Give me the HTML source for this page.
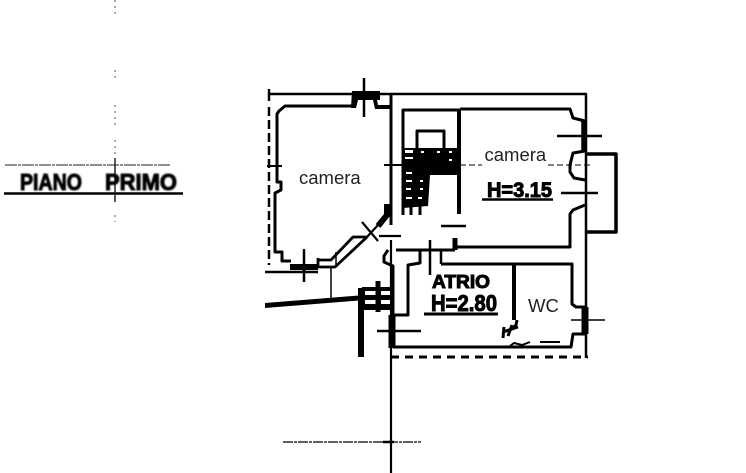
<!DOCTYPE html>
<html><head><meta charset="utf-8"><style>
html,body{margin:0;padding:0;background:#fff;width:746px;height:473px;overflow:hidden}
svg{display:block}
text{font-family:"Liberation Sans",sans-serif}
.w{fill:none;stroke:#000;stroke-linejoin:round}
.h{font-weight:bold;fill:#000;stroke:#000;stroke-width:1}
</style></head><body>
<svg width="746" height="473" viewBox="0 0 746 473" xmlns="http://www.w3.org/2000/svg">
<defs><filter id="b"><feGaussianBlur stdDeviation=".7"/></filter></defs>
<rect width="746" height="473" fill="#fff"/>
<!-- left title -->
<path d="M115 0V14M115 70V80M115 105V125M115 140V205M115 215V222" stroke="#555" stroke-width="1" stroke-dasharray="2 4" fill="none"/>
<path d="M5 165H170" stroke="#222" stroke-width="1" stroke-dasharray="12 1 3 1"/>
<path d="M4 193.500H183" stroke="#000" stroke-width="2.500"/>
<path d="M115 158V202" stroke="#222" stroke-width="1.500"/>
<g filter="url(#b)"><text x="20" y="190" class="h" font-size="23" stroke-width="1.600" textLength="62" lengthAdjust="spacingAndGlyphs">PIANO</text>
<text x="105" y="190" class="h" font-size="23" stroke-width="1.600" textLength="72" lengthAdjust="spacingAndGlyphs">PRIMO</text></g>

<!-- outer lines -->
<path class="w" stroke-width="2.500" d="M269 94H586V358"/>
<path class="w" stroke-width="2.500" d="M269 89V101"/>
<path class="w" stroke-width="2.500" stroke-dasharray="9 4" d="M269 107V265"/>
<path class="w" stroke-width="3" stroke-dasharray="8 6" d="M391 357H588"/>
<path class="w" stroke-width="3" d="M391 94V225"/>
<path class="w" stroke-width="2.200" d="M391 240V473"/>
<path class="w" stroke-width="1.200" stroke-dasharray="10 1 3 1" d="M283 442H421"/>
<path class="w" stroke-width="2.500" d="M383 442H394"/>

<!-- left room -->
<path class="w" stroke-width="3" d="M353 106H285L279 111L277 114V182H281V190L275 193V252H282V261H291"/>
<path d="M352 91H380V100H377L378 105H392V109H375L373 100H358L356 108H351Z" fill="#000"/>
<path class="w" stroke-width="2.500" d="M364 78V117"/>
<path class="w" stroke-width="2" d="M267 166H282M384 165H403"/>
<path class="w" stroke-width="6" d="M290 267H318"/>
<path class="w" stroke-width="2.500" d="M265 272H318M304 249V282"/>
<path class="w" stroke-width="2.800" d="M318 260H331L353 237H367L335 267H318V258"/>
<path class="w" stroke-width="1.500" d="M336 252V267M331 268V298"/>
<path class="w" stroke-width="2.200" d="M362 222L378 241M379 224L366 238M379 236H401"/>
<path class="w" stroke-width="6" d="M378 226L387 215V204"/>

<!-- lower left -->
<path d="M265 303L365 295V300L265 308Z" fill="#000"/>
<path class="w" stroke-width="6" d="M361 288V357"/>
<rect x="362" y="287" width="31" height="23" fill="#000"/>
<g fill="#fff"><rect x="365" y="291" width="11" height="4"/><rect x="381" y="291" width="9" height="4"/><rect x="365" y="300" width="11" height="4"/><rect x="381" y="300" width="9" height="4"/></g>
<path class="w" stroke-width="5" d="M378 281V312"/>

<!-- stairs -->
<path class="w" stroke-width="3" d="M403 215V110H460M417 148V131H444V150"/>
<path d="M403 148H459V175H430L428 206L403 208Z" fill="#000"/>
<g fill="#fff">
<rect x="405" y="150" width="8" height="3"/><rect x="405" y="157" width="8" height="2"/><rect x="421" y="151" width="3" height="2"/><rect x="437" y="151" width="3" height="2"/><rect x="449" y="151" width="3" height="2"/><rect x="449" y="159" width="3" height="2"/>
<rect x="406" y="172" width="6" height="2"/>
<rect x="406" y="180" width="6" height="2"/><rect x="420" y="180" width="3" height="2"/><rect x="406" y="188" width="5" height="2"/><rect x="420" y="188" width="3" height="2"/><rect x="406" y="197" width="6" height="2"/><rect x="418" y="197" width="4" height="2"/>
</g>
<path class="w" stroke-width="3" d="M420 205V215M411 207V215"/>

<!-- right room -->
<path class="w" stroke-width="3" d="M460 109H570L573 118L585 121M585 151L573 153L570 165V172L574 178L585 180M585 205L573 210L570 214V247H455"/>
<path class="w" stroke-width="5.500" d="M584 120V150"/>
<path class="w" stroke-width="4" d="M459 109V214"/>
<path class="w" stroke-width="2.500" d="M557 136H602M561 193H598"/>
<path class="w" stroke-width="1" stroke-dasharray="6 3" d="M460 165H482M548 165H590"/>
<path class="w" stroke-width="3.500" d="M586 154H616V232H586"/>
<path class="w" stroke-width="2.500" d="M441 226H466"/>
<path class="w" stroke-width="5" d="M455 238V250"/>

<!-- atrio / wc -->
<path class="w" stroke-width="3" d="M396 250H455M388 250L384 256V262L393 266V315H408V265L420 263V250"/>
<path class="w" stroke-width="2.500" d="M430 240V275M441 250V264"/>
<path class="w" stroke-width="3" d="M441 264H572V304L576 307H585M585 334H573L571 347H393"/>
<path class="w" stroke-width="7" d="M392 315V348"/>
<path class="w" stroke-width="2.500" d="M377 331H421"/>
<path class="w" stroke-width="7" d="M585 307V334"/>
<path class="w" stroke-width="1.500" d="M571 320H605"/>
<path class="w" stroke-width="4" d="M514 263V320"/>
<path class="w" stroke-width="3" d="M517 320L516 325L510 330M503 332L518 327M504 327L503 338M512 325L508 336"/>
<path class="w" stroke-width="2" d="M510 346L514 343L522 345L530 342M540 342H560"/>

<!-- labels -->
<text x="299" y="184" font-size="18.500" fill="#222">camera</text>
<text x="484.500" y="161" font-size="18.500" fill="#222">camera</text>
<text x="528" y="312" font-size="18.500" fill="#222">WC</text>
<text x="487" y="197" class="h" font-size="21" textLength="65" lengthAdjust="spacingAndGlyphs">H=3.15</text>
<path d="M482 199.500H553" stroke="#000" stroke-width="2.500"/>
<text x="432" y="288" class="h" font-size="18" textLength="58" lengthAdjust="spacingAndGlyphs">ATRIO</text>
<text x="431" y="311" class="h" font-size="23" textLength="66" lengthAdjust="spacingAndGlyphs">H=2.80</text>
<path d="M424 314H498" stroke="#000" stroke-width="3"/>
</svg>
</body></html>
